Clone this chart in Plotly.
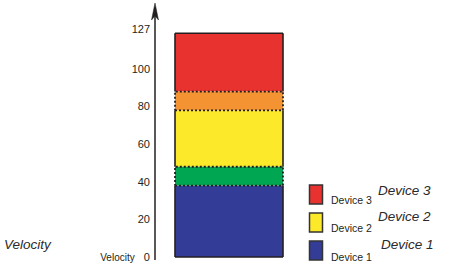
import plotly.graph_objects as go

# ---- data ----
device_names = ["Device 1", "Device 2", "Device 3"]
device_low = [0, 38, 78]      # velocity where each device starts
device_high = [48, 88, 119]   # velocity where each device ends (top drawn near 127 mark)
device_colors = ["#333C96", "#FBE92A", "#E8322F"]
overlap_colors = ["#00A651", "#F39331"]

tick_vals = [0, 20, 40, 60, 80, 100, 121]
tick_text = ["<span style='font-size:10px'>Velocity</span>\u00a0\u00a0\u00a00",
             "20", "40", "60", "80", "100", "127"]
axis_title = "Velocity"

# ---- layout frame (pixel based) ----
W, H = 467, 266
Y0_PX, PX_PER_UNIT = 257.0, 1.88
def v_of(py):
    return (Y0_PX - py) / PX_PER_UNIT

BAR_X0, BAR_X1 = 175, 283
BAR_XC, BAR_W = (BAR_X0 + BAR_X1) / 2, BAR_X1 - BAR_X0
AXIS_X = 155
INK = "#231F20"
FONT = "Liberation Sans, Arial, Helvetica, sans-serif"

fig = go.Figure()

n = len(device_names)
segments = []  # (bottom, top, color, dotted)
for i in range(n):
    lo = device_low[i] if i == 0 else max(device_low[i], device_high[i - 1])
    hi = device_high[i] if i == n - 1 else min(device_high[i], device_low[i + 1])
    segments.append((lo, hi, device_colors[i], False, i))
for i in range(n - 1):
    segments.append((device_low[i + 1], device_high[i], overlap_colors[i], True, i))

# fills
for lo, hi, col, dotted, i in segments:
    fig.add_trace(go.Bar(x=[BAR_XC], y=[hi - lo], base=[lo], width=[BAR_W],
                         marker=dict(color=col, line=dict(width=0)),
                         showlegend=False, hoverinfo="skip"))

# solid borders for exclusive parts
for lo, hi, col, dotted, i in segments:
    if dotted:
        continue
    xs = [BAR_X0, BAR_X0, None, BAR_X1, BAR_X1]
    ys = [lo, hi, None, lo, hi]
    if i == n - 1:
        xs += [None, BAR_X0, BAR_X1]; ys += [None, hi, hi]
    if i == 0:
        xs += [None, BAR_X0, BAR_X1]; ys += [None, lo, lo]
    fig.add_trace(go.Scatter(x=xs, y=ys, mode="lines",
                             line=dict(color=INK, width=1.6),
                             showlegend=False, hoverinfo="skip"))

# dotted borders for overlaps
for lo, hi, col, dotted, i in segments:
    if not dotted:
        continue
    fig.add_trace(go.Scatter(x=[BAR_X0, BAR_X1, BAR_X1, BAR_X0, BAR_X0],
                             y=[lo, lo, hi, hi, lo], mode="lines",
                             line=dict(color=INK, width=1.8, dash="2px,2px"),
                             showlegend=False, hoverinfo="skip"))

shapes = []
# axis line with arrow head
shapes.append(dict(type="line", xref="x", yref="y", x0=AXIS_X, x1=AXIS_X,
                   y0=v_of(260), y1=v_of(14), line=dict(color=INK, width=1.5)))
shapes.append(dict(type="path", xref="x", yref="y",
                   path=f"M{AXIS_X},{v_of(3)} L{AXIS_X + 3.5},{v_of(20)} "
                        f"L{AXIS_X},{v_of(16)} L{AXIS_X - 3.5},{v_of(20)} Z",
                   fillcolor=INK, line=dict(color=INK, width=0.5)))

annotations = []
# legend swatches and labels (top to bottom: Device 3, 2, 1)
sw_tops = [241, 213, 185]
small_cy = [256.5, 228, 199.5]
big_cy = [244, 216, 190.5]
big_x = [379, 376, 376]
for i in range(n):
    shapes.append(dict(type="rect", xref="paper", yref="paper",
                       x0=309.5 / W, x1=322.5 / W,
                       y0=1 - (sw_tops[i] + 19) / H, y1=1 - sw_tops[i] / H,
                       fillcolor=device_colors[i], line=dict(color="#333333", width=1.5)))
    annotations.append(dict(xref="paper", yref="paper", x=329 / W, y=1 - small_cy[i] / H,
                            xanchor="left", yanchor="middle", showarrow=False,
                            text=device_names[i], font=dict(family=FONT, size=10.5, color=INK)))
    annotations.append(dict(xref="paper", yref="paper", x=big_x[i] / W, y=1 - big_cy[i] / H,
                            xanchor="left", yanchor="middle", showarrow=False,
                            text=f"<i>{device_names[i]}</i>",
                            font=dict(family=FONT, size=13.5, color="#2a2a2a")))

annotations.append(dict(xref="paper", yref="paper", x=2 / W, y=1 - 244.5 / H,
                        xanchor="left", yanchor="middle", showarrow=False,
                        text=f"<i>{axis_title}</i>",
                        font=dict(family=FONT, size=13.5, color="#2a2a2a")))

fig.update_layout(
    width=W, height=H, margin=dict(l=0, r=0, t=0, b=0),
    paper_bgcolor="white", plot_bgcolor="white",
    barmode="overlay", showlegend=False,
    xaxis=dict(range=[0, W], visible=False, fixedrange=True),
    yaxis=dict(range=[v_of(H), v_of(0)], anchor="free", position=AXIS_X / W,
               showgrid=False, zeroline=False, showline=False, ticks="",
               tickvals=tick_vals, ticktext=tick_text, ticklabelstandoff=5,
               tickfont=dict(family=FONT, size=11, color=INK), fixedrange=True),
    shapes=shapes, annotations=annotations,
)

fig.write_html("out.html")
